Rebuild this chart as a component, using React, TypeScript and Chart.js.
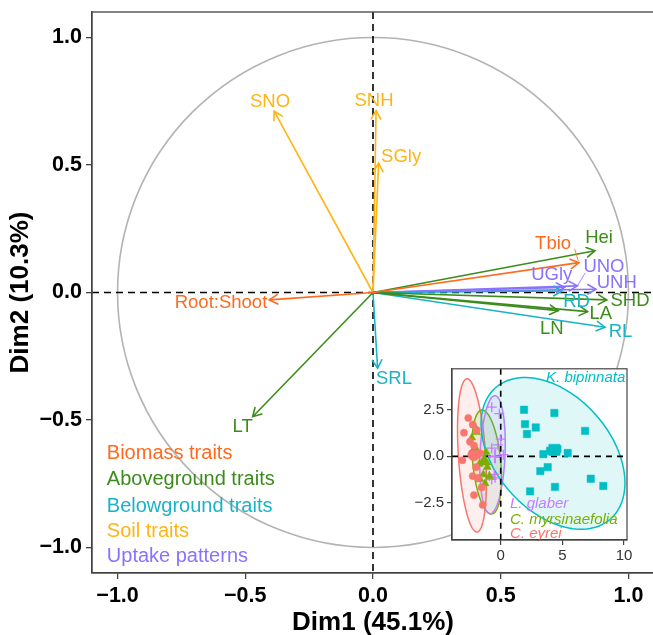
import React, { useEffect, useRef } from 'react';
import { Chart, registerables } from 'chart.js';

Chart.register(...registerables);

const FONT = '"Liberation Sans", Arial, Helvetica, sans-serif';

// ---------- main PCA variable plot ----------
const varNames = ['Root:Shoot', 'Tbio', 'Hei', 'LA', 'LN', 'SHD', 'LT', 'RD', 'RL', 'SRL', 'SNO', 'SNH', 'SGly', 'UGly', 'UNO', 'UNH'];
const varGroups = ['Biomass', 'Biomass', 'Above', 'Above', 'Above', 'Above', 'Above', 'Below', 'Below', 'Below', 'Soil', 'Soil', 'Soil', 'Uptake', 'Uptake', 'Uptake'];
const varDim1 = [-0.406, 0.806, 0.869, 0.840, 0.725, 0.915, -0.471, 0.740, 0.908, 0.018, -0.387, 0.012, 0.022, 0.750, 0.800, 0.873];
const varDim2 = [-0.029, 0.117, 0.164, -0.075, -0.071, -0.029, -0.487, 0.006, -0.136, -0.297, 0.711, 0.713, 0.507, 0.020, 0.026, 0.013];
const labelDim1 = [-0.595, 0.705, 0.885, 0.892, 0.700, 1.006, -0.510, 0.797, 0.969, 0.082, -0.403, 0.004, 0.110, 0.700, 0.904, 0.954];
const labelDim2 = [-0.042, 0.189, 0.216, -0.085, -0.143, -0.032, -0.526, -0.036, -0.154, -0.340, 0.748, 0.751, 0.530, 0.069, 0.099, 0.038];

// label leader segments
const leaderGroup = ['Biomass', 'Uptake'];
const leaderFromX = [0.790, 0.830];
const leaderFromY = [0.170, 0.076];
const leaderToX = [0.803, 0.802];
const leaderToY = [0.125, 0.029];

const mainTicks = [-1, -0.5, 0, 0.5, 1];
const mainTickLabels = ['\u22121.0', '\u22120.5', '0.0', '0.5', '1.0'];

const legendLabels = ['Biomass traits', 'Aboveground traits', 'Belowground traits', 'Soil traits', 'Uptake patterns'];
const legendGroups = ['Biomass', 'Above', 'Below', 'Soil', 'Uptake'];
const legendDim1 = -1.042;
const legendDim2 = [-0.633, -0.735, -0.840, -0.938, -1.036];

const groupColor: Record<string, string> = {
  Biomass: '#FF6A1F',
  Above: '#3C8C1C',
  Below: '#1AB3C6',
  Soil: '#FFB414',
  Uptake: '#8A72FF',
};

// ---------- inset individuals plot ----------
const speciesNames = ['C. eyrei', 'C. myrsinaefolia', 'L. glaber', 'K. bipinnata'];
const speciesColors = ['#F8766D', '#7CAE00', '#C77CFF', '#00BFC4'];
const speciesShapes = ['circle', 'triangle', 'cross', 'rect'];

const eyreiX = [-2.63, -2.27, -2.98, -1.95, -2.49, -2.17, -3.11, -1.68, -2.00, -2.27, -1.82, -1.54, -2.17, -1.46];
const eyreiY = [2.06, 1.71, 1.27, 1.41, 0.79, 0.58, -0.21, 0.17, -0.58, -1.06, -1.15, -1.67, -2.08, -2.61];
const myrsX = [-2.17, -1.95, -2.35, -2.08, -1.19, -1.74, -1.09, -1.41, -0.92, -1.68, -1.27];
const myrsY = [1.67, 1.29, 1.00, 0.48, 0.23, -0.41, -0.58, -0.97, -1.06, -1.23, -1.46];
const glaberX = [-0.73, -0.11, 0.00, -0.24, -0.73, 0.21, -0.52, -0.73, -0.46, -0.92];
const glaberY = [2.64, 2.29, 0.92, 0.62, 0.44, 0.09, -0.97, -1.23, -1.15, -1.06];
const bipX = [1.89, 4.35, 1.97, 2.84, 6.84, 2.13, 4.00, 3.46, 5.43, 3.81, 3.21, 7.30, 8.32, 4.40, 2.38, 4.60];
const bipY = [2.50, 2.33, 1.73, 1.55, 1.37, 1.20, 0.30, 0.12, 0.18, -0.58, -0.79, -1.20, -1.59, -1.64, -1.88, 0.38];
const speciesX = [eyreiX, myrsX, glaberX, bipX];
const speciesY = [eyreiY, myrsY, glaberY, bipY];

const centroidX = [-2.17, -1.33, -0.46, 4.35];
const centroidY = [0.09, -0.26, 0.00, 0.35];

// confidence ellipses: centre + two conjugate semi-axis vectors
const ellCx = [-2.33, -1.135, -0.665, 4.24];
const ellCy = [0.05, -0.307, 0.09, 0.16];
const ellAx = [0.408, 0.404, -0.204, 4.589];
const ellAy = [-4.114, -2.789, -3.168, -3.563];
const ellBx = [-1.100, -1.130, -1.013, -3.603];
const ellBy = [-0.0443, -0.0696, 0.0277, -1.971];

const insetXTicks = [0, 5, 10];
const insetXTickLabels = ['0', '5', '10'];
const insetYTicks = [-2.5, 0, 2.5];
const insetYTickLabels = ['\u22122.5', '0.0', '2.5'];

const insetLabelX = [0.75, 0.75, 0.75, 6.89];
const insetLabelY = [-4.14, -3.40, -2.55, 4.23];

function hexA(hex: string, a: number) {
  const r = parseInt(hex.slice(1, 3), 16), g = parseInt(hex.slice(3, 5), 16), b = parseInt(hex.slice(5, 7), 16);
  return `rgba(${r},${g},${b},${a})`;
}

const mainPlugin = {
  id: 'pcaDecor',
  beforeDatasetsDraw(chart: any) {
    const { ctx, chartArea: a, scales } = chart;
    const x = scales.x, y = scales.y;
    const cx = x.getPixelForValue(0), cy = y.getPixelForValue(0);
    const rx = x.getPixelForValue(1) - cx, ry = cy - y.getPixelForValue(1);
    ctx.save();
    ctx.beginPath();
    ctx.rect(a.left, a.top, a.right - a.left, a.bottom - a.top);
    ctx.clip();
    ctx.strokeStyle = '#b3b3b3';
    ctx.lineWidth = 1.6;
    ctx.beginPath();
    ctx.ellipse(cx, cy, rx, ry, 0, 0, Math.PI * 2);
    ctx.stroke();
    ctx.strokeStyle = '#000';
    ctx.lineWidth = 1.6;
    ctx.setLineDash([7, 5]);
    ctx.beginPath();
    ctx.moveTo(a.left, cy); ctx.lineTo(a.right, cy);
    ctx.moveTo(cx, a.top); ctx.lineTo(cx, a.bottom);
    ctx.stroke();
    ctx.restore();
  },
  afterDatasetsDraw(chart: any) {
    const { ctx, scales } = chart;
    const x = scales.x, y = scales.y;
    const ox = x.getPixelForValue(0), oy = y.getPixelForValue(0);
    ctx.save();
    ctx.lineWidth = 1.6;
    ctx.lineCap = 'round';
    for (let i = 0; i < varNames.length; i++) {
      const tx = x.getPixelForValue(varDim1[i]), ty = y.getPixelForValue(varDim2[i]);
      const ang = Math.atan2(ty - oy, tx - ox);
      const L = 9.5, w = Math.PI / 6;
      ctx.strokeStyle = groupColor[varGroups[i]];
      ctx.beginPath();
      ctx.moveTo(tx - L * Math.cos(ang - w), ty - L * Math.sin(ang - w));
      ctx.lineTo(tx, ty);
      ctx.lineTo(tx - L * Math.cos(ang + w), ty - L * Math.sin(ang + w));
      ctx.stroke();
    }
    ctx.lineWidth = 0.8;
    for (let i = 0; i < leaderGroup.length; i++) {
      ctx.strokeStyle = groupColor[leaderGroup[i]];
      ctx.beginPath();
      ctx.moveTo(x.getPixelForValue(leaderFromX[i]), y.getPixelForValue(leaderFromY[i]));
      ctx.lineTo(x.getPixelForValue(leaderToX[i]), y.getPixelForValue(leaderToY[i]));
      ctx.stroke();
    }
    ctx.font = `18.5px ${FONT}`;
    ctx.textAlign = 'center';
    ctx.textBaseline = 'middle';
    for (let i = 0; i < varNames.length; i++) {
      ctx.fillStyle = groupColor[varGroups[i]];
      ctx.fillText(varNames[i], x.getPixelForValue(labelDim1[i]), y.getPixelForValue(labelDim2[i]));
    }
    ctx.font = `20px ${FONT}`;
    ctx.textAlign = 'left';
    for (let i = 0; i < legendLabels.length; i++) {
      ctx.fillStyle = groupColor[legendGroups[i]];
      ctx.fillText(legendLabels[i], x.getPixelForValue(legendDim1), y.getPixelForValue(legendDim2[i]));
    }
    ctx.restore();
  },
  afterDraw(chart: any) {
    const { ctx, chartArea: a } = chart;
    ctx.save();
    ctx.strokeStyle = '#444';
    ctx.lineWidth = 1.3;
    ctx.strokeRect(a.left, a.top, a.right - a.left, a.bottom - a.top);
    ctx.restore();
  },
};

const insetPlugin = {
  id: 'insetDecor',
  beforeDraw(chart: any) {
    const { ctx, chartArea: a } = chart;
    ctx.save();
    ctx.fillStyle = '#fff';
    ctx.fillRect(a.left, a.top, a.right - a.left, a.bottom - a.top);
    ctx.restore();
  },
  beforeDatasetsDraw(chart: any) {
    const { ctx, chartArea: a, scales } = chart;
    const x = scales.x, y = scales.y;
    ctx.save();
    ctx.beginPath();
    ctx.rect(a.left, a.top, a.right - a.left, a.bottom - a.top);
    ctx.clip();
    for (let g = 0; g < ellCx.length; g++) {
      ctx.beginPath();
      const n = 120;
      for (let k = 0; k <= n; k++) {
        const t = (k / n) * Math.PI * 2;
        const dx = ellCx[g] + Math.cos(t) * ellAx[g] + Math.sin(t) * ellBx[g];
        const dy = ellCy[g] + Math.cos(t) * ellAy[g] + Math.sin(t) * ellBy[g];
        const px = x.getPixelForValue(dx), py = y.getPixelForValue(dy);
        if (k === 0) ctx.moveTo(px, py); else ctx.lineTo(px, py);
      }
      ctx.closePath();
      ctx.fillStyle = hexA(speciesColors[g], 0.12);
      ctx.fill();
      ctx.strokeStyle = speciesColors[g];
      ctx.lineWidth = 1.5;
      ctx.stroke();
    }
    const cx = x.getPixelForValue(0), cy = y.getPixelForValue(0);
    ctx.strokeStyle = '#000';
    ctx.lineWidth = 1.6;
    ctx.setLineDash([6, 5]);
    ctx.beginPath();
    ctx.moveTo(a.left, cy); ctx.lineTo(a.right, cy);
    ctx.moveTo(cx, a.top); ctx.lineTo(cx, a.bottom);
    ctx.stroke();
    ctx.restore();
  },
  afterDatasetsDraw(chart: any) {
    const { ctx, scales } = chart;
    const x = scales.x, y = scales.y;
    ctx.save();
    ctx.font = `italic 15px ${FONT}`;
    ctx.textBaseline = 'middle';
    for (let g = 0; g < speciesNames.length; g++) {
      ctx.fillStyle = speciesColors[g];
      ctx.textAlign = g === 3 ? 'center' : 'left';
      ctx.fillText(speciesNames[g], x.getPixelForValue(insetLabelX[g]), y.getPixelForValue(insetLabelY[g]));
    }
    ctx.restore();
  },
  afterDraw(chart: any) {
    const { ctx, chartArea: a } = chart;
    ctx.save();
    ctx.strokeStyle = '#444';
    ctx.lineWidth = 1.2;
    ctx.strokeRect(a.left, a.top, a.right - a.left, a.bottom - a.top);
    ctx.restore();
  },
};

const fitX = (h: number) => (s: any) => {
  s.height = h;
  s.paddingLeft = 0;
  s.paddingRight = 0;
  s.paddingTop = 0;
  s.paddingBottom = 0;
};
const fitY = (w: number) => (s: any) => {
  s.width = w;
  s.paddingLeft = 0;
  s.paddingRight = 0;
  s.paddingTop = 0;
  s.paddingBottom = 0;
};

export default function App() {
  const mainRef = useRef<HTMLCanvasElement>(null);
  const insetRef = useRef<HTMLCanvasElement>(null);

  useEffect(() => {
    Chart.defaults.font.family = FONT;
    const mainDatasets = varNames.map((n, i) => ({
      label: n,
      data: [{ x: 0, y: 0 }, { x: varDim1[i], y: varDim2[i] }],
      showLine: true,
      borderColor: groupColor[varGroups[i]],
      backgroundColor: groupColor[varGroups[i]],
      borderWidth: 1.6,
      pointRadius: 0,
      pointHoverRadius: 0,
      fill: false,
    }));

    const main = new Chart(mainRef.current as HTMLCanvasElement, {
      type: 'scatter',
      data: { datasets: mainDatasets as any },
      options: {
        animation: false,
        responsive: false,
        maintainAspectRatio: false,
        events: [],
        layout: { padding: { top: 12, right: 10, left: 0, bottom: 0 } },
        plugins: { legend: { display: false }, tooltip: { enabled: false } },
        scales: {
          x: {
            type: 'linear',
            min: -1.1,
            max: 1.1,
            afterFit: fitX(62),
            afterBuildTicks: (s: any) => { s.ticks = mainTicks.map((v) => ({ value: v })); },
            ticks: {
              callback: (v: any) => mainTickLabels[mainTicks.indexOf(Number(v))],
              color: '#000',
              font: { size: 21.5, weight: 'bold' },
              padding: 4,
              maxRotation: 0,
            },
            grid: { drawOnChartArea: false, drawTicks: true, tickLength: 6, color: '#444', lineWidth: 1.3 },
            border: { display: true, color: '#444', width: 1.3 },
            title: {
              display: true,
              text: 'Dim1 (45.1%)',
              color: '#000',
              font: { size: 26, weight: 'bold', lineHeight: 1 },
              padding: { top: 0, bottom: -1 },
            },
          },
          y: {
            type: 'linear',
            min: -1.1,
            max: 1.1,
            afterFit: fitY(92),
            afterBuildTicks: (s: any) => { s.ticks = mainTicks.map((v) => ({ value: v })); },
            ticks: {
              callback: (v: any) => mainTickLabels[mainTicks.indexOf(Number(v))],
              color: '#000',
              font: { size: 21.5, weight: 'bold' },
              padding: 4,
            },
            grid: { drawOnChartArea: false, drawTicks: true, tickLength: 6, color: '#444', lineWidth: 1.3 },
            border: { display: true, color: '#444', width: 1.3 },
            title: {
              display: true,
              text: 'Dim2 (10.3%)',
              color: '#000',
              font: { size: 26, weight: 'bold', lineHeight: 1 },
              padding: { top: 8, bottom: 0 },
            },
          },
        },
      },
      plugins: [mainPlugin],
    } as any);

    const insetDatasets: any[] = [];
    for (let g = 0; g < speciesNames.length; g++) {
      const shape = speciesShapes[g];
      insetDatasets.push({
        label: speciesNames[g],
        data: speciesX[g].map((v, i) => ({ x: v, y: speciesY[g][i] })),
        pointStyle: shape,
        pointRadius: shape === 'rect' ? 5.2 : shape === 'triangle' ? 4.6 : shape === 'cross' ? 5 : 3.6,
        pointBackgroundColor: speciesColors[g],
        pointBorderColor: speciesColors[g],
        pointBorderWidth: shape === 'cross' ? 1.3 : 0.5,
        showLine: false,
      });
    }
    for (let g = 0; g < speciesNames.length; g++) {
      const shape = speciesShapes[g];
      insetDatasets.push({
        label: speciesNames[g] + ' mean',
        data: [{ x: centroidX[g], y: centroidY[g] }],
        pointStyle: shape,
        pointRadius: shape === 'rect' ? 8 : shape === 'triangle' ? 7.5 : shape === 'cross' ? 7 : 6.2,
        pointBackgroundColor: speciesColors[g],
        pointBorderColor: speciesColors[g],
        pointBorderWidth: shape === 'cross' ? 1.8 : 0.5,
        showLine: false,
      });
    }

    const inset = new Chart(insetRef.current as HTMLCanvasElement, {
      type: 'scatter',
      data: { datasets: insetDatasets },
      options: {
        animation: false,
        responsive: false,
        maintainAspectRatio: false,
        events: [],
        layout: { padding: { top: 6, right: 13, left: 0, bottom: 0 } },
        plugins: { legend: { display: false }, tooltip: { enabled: false } },
        scales: {
          x: {
            type: 'linear',
            min: -3.95,
            max: 10.24,
            afterFit: fitX(30),
            afterBuildTicks: (s: any) => { s.ticks = insetXTicks.map((v) => ({ value: v })); },
            ticks: {
              callback: (v: any) => insetXTickLabels[insetXTicks.indexOf(Number(v))],
              color: '#333',
              font: { size: 15 },
              padding: 2,
              maxRotation: 0,
            },
            grid: { drawOnChartArea: false, drawTicks: true, tickLength: 5, color: '#444', lineWidth: 1.2 },
            border: { display: true, color: '#444', width: 1.2 },
          },
          y: {
            type: 'linear',
            min: -4.49,
            max: 4.70,
            afterFit: fitY(52),
            afterBuildTicks: (s: any) => { s.ticks = insetYTicks.map((v) => ({ value: v })); },
            ticks: {
              callback: (v: any) => insetYTickLabels[insetYTicks.indexOf(Number(v))],
              color: '#333',
              font: { size: 15 },
              padding: 3,
            },
            grid: { drawOnChartArea: false, drawTicks: true, tickLength: 5, color: '#444', lineWidth: 1.2 },
            border: { display: true, color: '#444', width: 1.2 },
          },
        },
      },
      plugins: [insetPlugin],
    } as any);

    return () => {
      main.destroy();
      inset.destroy();
    };
  }, []);

  return (
    <div style={{ position: 'fixed', left: 0, top: 0, width: 653, height: 635, overflow: 'hidden', background: '#fff' }}>
      <canvas ref={mainRef} width={664} height={635} style={{ position: 'absolute', left: 0, top: 0, width: 664, height: 635 }} />
      <canvas ref={insetRef} width={240} height={210} style={{ position: 'absolute', left: 400, top: 360, width: 240, height: 210 }} />
    </div>
  );
}
